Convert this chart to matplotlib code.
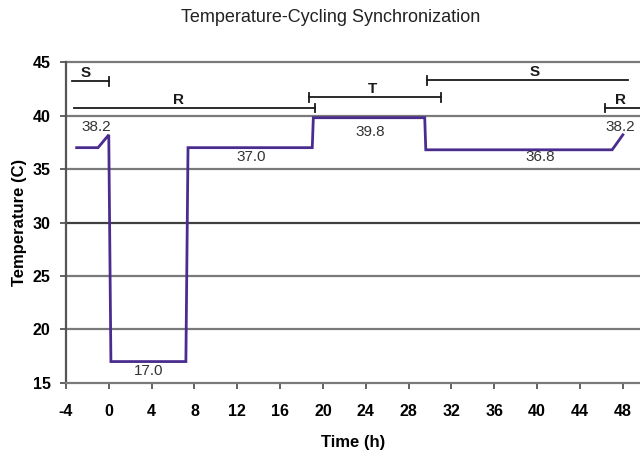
import matplotlib
matplotlib.use("Agg")
import matplotlib.pyplot as plt

plt.rcParams['font.family'] = ['Liberation Sans', 'DejaVu Sans']

# Temperature profile
time_h = [-3, -1, 0, 0.2, 7.2, 7.4, 19, 19.1, 29.5, 29.6, 47, 48]
temp_c = [37, 37, 38.2, 17, 17, 37, 37, 39.8, 39.8, 36.8, 36.8, 38.2]

# Value annotations
val_labels = ["38.2", "17.0", "37.0", "39.8", "36.8", "38.2"]
val_x = [-1.2, 3.7, 13.3, 24.4, 40.3, 47.8]
val_y = [38.9, 16.1, 36.1, 38.5, 36.1, 38.9]

# Phase brackets: label, start, end, y, tick at start, tick at end
phase_names = ["S", "R", "T", "S", "R"]
phase_start = [-3.4, -3.2, 18.7, 29.7, 46.3]
phase_end = [0.0, 19.3, 31.0, 48.5, 49.8]
phase_y = [43.2, 40.7, 41.7, 43.3, 40.7]
phase_tick_start = [False, False, True, True, True]
phase_tick_end = [True, True, True, False, False]
phase_label_x = [-2.2, 6.5, 24.6, 39.8, 47.8]

xticks = list(range(-4, 49, 4))
yticks = [15, 20, 25, 30, 35, 40, 45]

fig = plt.figure(figsize=(6.4, 4.5), dpi=100)
ax = fig.add_axes([0.103, 0.149, 0.897, 0.713])
ax.set_xlim(-4, 49.6)
ax.set_ylim(15, 45)

for yv in yticks[1:]:
    ax.axhline(yv, color='#7a7a7a' if yv != 30 else '#404040', lw=1.6, zorder=1, clip_on=False)

ax.plot(time_h, temp_c, color='#4a2c8f', lw=2.0, zorder=3, solid_joinstyle='miter')

for t, x, y in zip(val_labels, val_x, val_y):
    ax.text(x, y, t, ha='center', va='center', fontsize=11, color='#333333', zorder=4)

for name, s, e, y, ts, te, lx in zip(phase_names, phase_start, phase_end, phase_y,
                                       phase_tick_start, phase_tick_end, phase_label_x):
    ax.plot([s, e], [y, y], color='#1a1a1a', lw=1.3, zorder=4, clip_on=False)
    if ts:
        ax.plot([s, s], [y - 0.4, y + 0.4], color='#1a1a1a', lw=1.3, zorder=4)
    if te:
        ax.plot([e, e], [y - 0.4, y + 0.4], color='#1a1a1a', lw=1.3, zorder=4)
    ax.text(lx, y + 0.1, name, ha='center', va='bottom', fontsize=11,
            fontweight='bold', color='#1a1a1a', zorder=4)

for sp in ['top', 'right']:
    ax.spines[sp].set_visible(False)
ax.spines['left'].set_color('#555555')
ax.spines['left'].set_linewidth(1.6)
ax.spines['bottom'].set_color('#7a7a7a')
ax.spines['bottom'].set_linewidth(1.6)

ax.set_xticks(xticks)
ax.set_yticks(yticks)
ax.set_xticklabels([str(v) for v in xticks], fontweight='bold', fontsize=11.5)
ax.set_yticklabels([str(v) for v in yticks], fontweight='bold', fontsize=11.5)
ax.tick_params(axis='x', direction='out', length=4, width=1.3, color='#555555', pad=11)
ax.tick_params(axis='y', direction='out', length=4, width=1.3, color='#555555', pad=7)

ax.set_xlabel('Time (h)', fontweight='bold', fontsize=12, labelpad=12)
ax.set_ylabel('Temperature (C)', fontweight='bold', fontsize=12, labelpad=4)
fig.text(0.517, 0.96, 'Temperature-Cycling Synchronization', ha='center', va='center',
         fontsize=13, color='#222222')

fig.savefig('out.png', dpi=100)
